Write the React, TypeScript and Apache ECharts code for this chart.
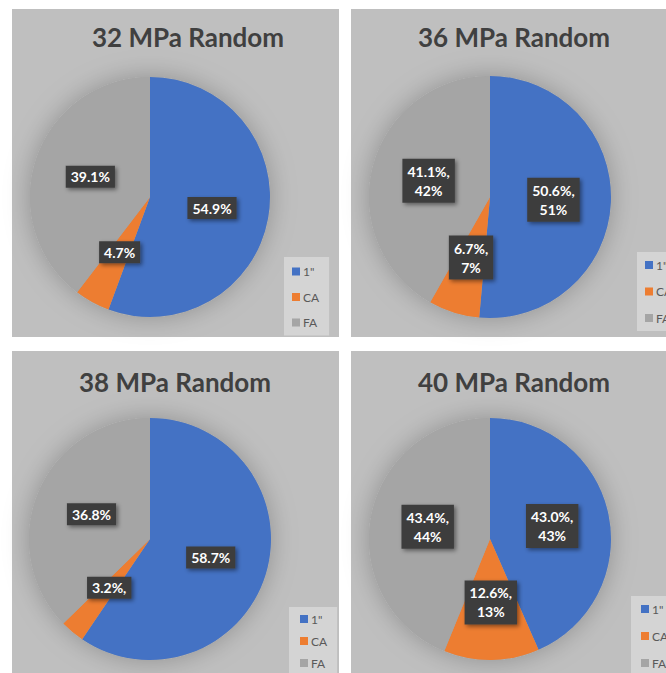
import React, { useEffect, useRef } from "react";
import * as echarts from "echarts";

const categories = ['1"', "CA", "FA"];
const colors = ["#4472C4", "#ED7D31", "#A5A5A5"];

const titles = ["32 MPa Random", "36 MPa Random", "38 MPa Random", "40 MPa Random"];

const values32 = [54.9, 4.7, 39.1];
const values36 = [50.6, 6.7, 41.1];
const values38 = [58.7, 3.2, 36.8];
const values40 = [43.0, 12.6, 43.4];

const labels32 = ["54.9%", "4.7%", "39.1%"];
const labels36 = ["50.6%,\n51%", "6.7%,\n7%", "41.1%,\n42%"];
const labels38 = ["58.7%", "3.2%,", "36.8%"];
const labels40 = ["43.0%,\n43%", "12.6%,\n13%", "43.4%,\n44%"];

const FONT = "Lato, 'Open Sans', sans-serif";

type Panel = {
  rect: [number, number, number, number];
  title: [number, number];
  center: [number, number];
  radius: number;
  values: number[];
  labels: string[];
  lineHeight: number;
  legend: { left: number; top: number; gap: number; pad: number[] };
};

const panels: Panel[] = [
  {
    rect: [12, 9, 327, 328],
    title: [188, 37],
    center: [150, 197],
    radius: 120,
    values: values32,
    labels: labels32,
    lineHeight: 16,
    legend: { left: 284, top: 257, gap: 11.5, pad: [7.5, 10, 6, 8] },
  },
  {
    rect: [351, 9, 340, 328],
    title: [514, 37],
    center: [490, 197],
    radius: 121,
    values: values36,
    labels: labels36,
    lineHeight: 19,
    legend: { left: 637, top: 252, gap: 12.5, pad: [6, 10, 6, 8] },
  },
  {
    rect: [12, 351, 327, 340],
    title: [175, 382],
    center: [150, 539],
    radius: 121,
    values: values38,
    labels: labels38,
    lineHeight: 16,
    legend: { left: 289, top: 607, gap: 8, pad: [5, 10, 10, 11] },
  },
  {
    rect: [351, 351, 340, 340],
    title: [514, 382],
    center: [490, 539],
    radius: 121,
    values: values40,
    labels: labels40,
    lineHeight: 19,
    legend: { left: 631, top: 596, gap: 13, pad: [6, 10, 10, 10] },
  },
];

export default function App() {
  const ref = useRef<HTMLDivElement>(null);

  useEffect(() => {
    if (!ref.current) return;
    const chart = echarts.init(ref.current, null, { renderer: "svg" });

    const graphic: any[] = [];
    panels.forEach((p, i) => {
      graphic.push({
        type: "rect",
        z: -10,
        silent: true,
        shape: { x: p.rect[0], y: p.rect[1], width: p.rect[2], height: p.rect[3] },
        style: { fill: "#BFBFBF" },
      });
      graphic.push({
        type: "text",
        z: 10,
        silent: true,
        x: p.title[0],
        y: p.title[1],
        style: {
          text: titles[i],
          fill: "#404040",
          font: `bold 26px ${FONT}`,
          align: "center",
          verticalAlign: "middle",
        },
      });
    });

    const series: any[] = [];
    const legends: any[] = [];
    panels.forEach((p) => {
      series.push({
        type: "pie",
        silent: true,
        center: p.center,
        radius: p.radius,
        startAngle: 90,
        z: 1,
        label: { show: false },
        labelLine: { show: false },
        itemStyle: {
          color: "#A5A5A5",
          shadowBlur: 26,
          shadowColor: "rgba(0,0,0,0.25)",
        },
        data: [{ value: 1, name: "__bg" }],
        legendHoverLink: false,
      });
      series.push({
        type: "pie",
        center: p.center,
        radius: p.radius,
        startAngle: 90,
        clockwise: true,
        z: 2,
        itemStyle: { borderWidth: 0 },
        label: {
          show: true,
          position: "inside",
          color: "#FFFFFF",
          fontFamily: FONT,
          fontWeight: "bold",
          fontSize: 14,
          lineHeight: p.lineHeight,
          align: "center",
          backgroundColor: "#3C3C3C",
          padding: [3, 5],
          shadowColor: "rgba(0,0,0,0.45)",
          shadowBlur: 4,
          shadowOffsetX: 2,
          shadowOffsetY: 2,
          formatter: (params: any) => p.labels[params.dataIndex],
        },
        labelLine: { show: false },
        emphasis: { disabled: true },
        data: categories.map((c, k) => ({
          name: c,
          value: p.values[k],
          itemStyle: { color: colors[k] },
        })),
      });
      legends.push({
        orient: "vertical",
        left: p.legend.left,
        top: p.legend.top,
        height: 200,
        itemWidth: 8,
        itemHeight: 8,
        itemGap: p.legend.gap,
        padding: p.legend.pad,
        backgroundColor: "#D4D4D4",
        icon: "rect",
        selectedMode: false,
        data: categories,
        textStyle: {
          fontFamily: FONT,
          fontSize: 12,
          lineHeight: 14,
          color: "#595959",
          padding: [0, 0, 0, -2],
        },
      });
    });

    chart.setOption({
      animation: false,
      backgroundColor: "#FFFFFF",
      color: colors,
      legend: legends,
      graphic,
      series,
    });

    return () => chart.dispose();
  }, []);

  return (
    <div
      ref={ref}
      style={{ position: "absolute", left: 0, top: 0, width: 666, height: 673 }}
    />
  );
}
